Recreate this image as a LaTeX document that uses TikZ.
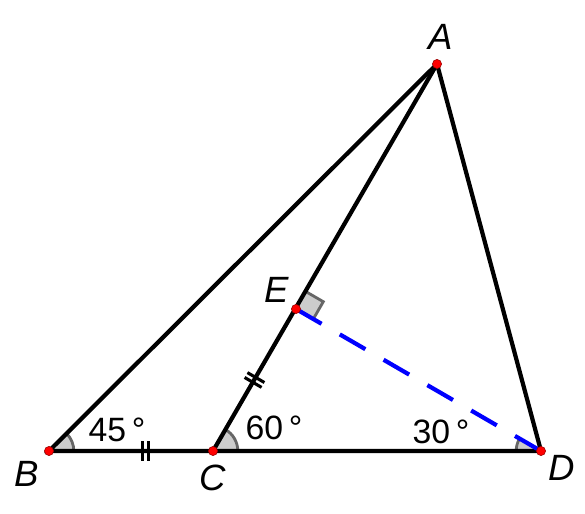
\documentclass[tikz,border=0pt]{standalone}
\usepackage{fontspec}
\setmainfont{Liberation Sans}
\usetikzlibrary{angles}

\tikzset{
  seg/.style={line width=3pt, black},
  perp/.style={line width=3pt, blue, dash pattern=on 21pt off 15pt},
  anglemark/.style={draw=black!60, fill=black!20, line width=2pt, angle radius=0.62cm},
  pt/.style={circle, fill=red, draw=red!60!black, line width=0.4pt, inner sep=0pt, minimum size=6.5pt},
  lbl/.style={inner sep=0pt, font=\fontsize{26}{30}\selectfont\itshape},
  deg/.style={inner sep=0pt, font=\fontsize{24}{28}\selectfont},
  dbltick/.pic={\draw[line width=2.2pt] (-2pt,-7pt) -- (-2pt,7pt) (2pt,-7pt) -- (2pt,7pt);}
}

\begin{document}
\begin{tikzpicture}[x=0.025cm, y=0.025cm]
        \useasboundingbox (0,0) rectangle (585,513);
        % points
        \coordinate (B) at (49,62);
        \coordinate (C) at (213,62);
        \coordinate (D) at (541,62);
        \coordinate (A) at (437,449);
        \coordinate (E) at (296,204);
        % angle marks
        \pic[anglemark] {angle=D--B--A};
        \pic[anglemark] {angle=D--C--A};
        \pic[anglemark] {angle=E--D--C};
        \pic[anglemark, angle radius=0.5cm] {right angle=D--E--A};
        % sides
        \draw[seg] (B) -- (D) -- (A) -- cycle;
        \draw[seg] (C) -- (A);
        \draw[perp] (E) -- (D);
        % equal marks
        \path (B) -- (C) pic[pos=0.59, sloped] {dbltick};
        \path (C) -- (E) pic[pos=0.5, sloped] {dbltick};
        % dots
        \foreach \p in {A,B,C,D,E}
            \node[pt] (dot\p) at (\p) {};
        % labels
        \node[lbl] (labA) at (441,476) {A};
        \node[lbl] (labB) at (27,39) {B};
        \node[lbl] (labC) at (213,35) {C};
        \node[lbl] (labD) at (562,45) {D};
        \node[lbl] (labE) at (277,223) {E};
        \node[deg] (angB) at (117,83) {45\,°};
        \node[deg] (angC) at (274,85) {60\,°};
        \node[deg] (angD) at (441,81) {30\,°};
\end{tikzpicture}
\end{document}
